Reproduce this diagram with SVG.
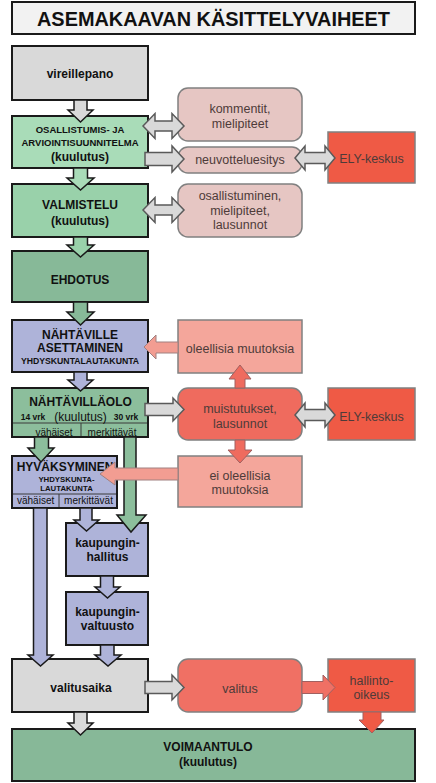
<svg xmlns="http://www.w3.org/2000/svg" width="436" height="783" viewBox="0 0 436 783">
<style>
text{font-family:"Liberation Sans",Arial,sans-serif;text-anchor:middle}
.b{font-weight:bold;font-size:12px;fill:#111}
.s{font-weight:bold;font-size:9.5px;fill:#111}
.xs{font-weight:bold;font-size:7.8px;fill:#111}
.r{font-size:10px;fill:#111}
.rt{font-size:12.5px;fill:#4e3b39}
.main{stroke:#1a1a1a;stroke-width:2}
.side{stroke:#808080;stroke-width:1.5}
.div{stroke:#3a3a3a;stroke-width:1;fill:none}
.ga{fill:#d9d9d9;stroke:#5a5a5a;stroke-width:1.5}
.ma{stroke:#1a1a1a;stroke-width:1.5}
.pa{fill:#f29d92;stroke:#a08080;stroke-width:1}
</style>
<g id="title">
<rect x="12" y="2" width="403" height="32" fill="#f2f2f2" stroke="#1a1a1a" stroke-width="2"/>
<text x="213.5" y="26" font-weight="bold" font-size="21" fill="#111" textLength="353" lengthAdjust="spacingAndGlyphs">ASEMAKAAVAN KÄSITTELYVAIHEET</text>
</g>
<g id="vireillepano">
<rect class="main" x="12" y="46" width="136" height="54" fill="#d9d9d9"/>
<text class="b" x="80" y="78">vireillepano</text>
</g>
<g id="osallistumis">
<rect class="main" x="12" y="116" width="136" height="52" fill="#a9dcb8"/>
<text class="s" x="80" y="133.3">OSALLISTUMIS- JA</text>
<text class="s" x="80" y="146">ARVIOINTISUUNNITELMA</text>
<text class="b" x="80" y="161">(kuulutus)</text>
</g>
<g id="valmistelu">
<rect class="main" x="12" y="184" width="136" height="53" fill="#99d1aa"/>
<text class="b" x="80" y="209">VALMISTELU</text>
<text class="b" x="80" y="225">(kuulutus)</text>
</g>
<g id="ehdotus">
<rect class="main" x="12" y="251" width="136" height="51" fill="#87b998"/>
<text class="b" x="80" y="283.5">EHDOTUS</text>
</g>
<g id="nahtaville">
<rect class="main" x="12" y="320" width="136" height="52" fill="#aeb3d9"/>
<text class="b" x="80" y="339">NÄHTÄVILLE</text>
<text class="b" x="80" y="352">ASETTAMINEN</text>
<text font-weight="bold" font-size="8.7" fill="#111" x="80" y="363.5">YHDYSKUNTALAUTAKUNTA</text>
</g>
<g id="nahtavillaolo">
<rect class="main" x="12" y="388" width="136" height="49" fill="#8cbe9c"/>
<line class="div" x1="13" y1="423" x2="147" y2="423"/>
<line class="div" x1="81" y1="423" x2="81" y2="436"/>
<text class="b" x="80.5" y="406">NÄHTÄVILLÄOLO</text>
<text font-weight="bold" font-size="8.5" fill="#111" x="33" y="420">14 vrk</text>
<text font-size="12" fill="#111" x="80.5" y="420.5">(kuulutus)</text>
<text font-weight="bold" font-size="8.5" fill="#111" x="126" y="420">30 vrk</text>
<text class="r" x="54" y="436">vähäiset</text>
<text class="r" x="112" y="436">merkittävät</text>
</g>
<g id="hyvaksyminen">
<rect class="main" x="12" y="456" width="105" height="52" fill="#aeb3d9"/>
<line class="div" x1="13" y1="494" x2="116" y2="494"/>
<line class="div" x1="59" y1="494" x2="59" y2="507"/>
<text class="b" x="65" y="471">HYVÄKSYMINEN</text>
<text class="xs" x="66.5" y="482">YHDYSKUNTA-</text>
<text class="xs" x="66.5" y="491">LAUTAKUNTA</text>
<text class="r" x="35.6" y="504">vähäiset</text>
<text class="r" x="88.5" y="504">merkittävät</text>
</g>
<g id="kaupunginhallitus">
<rect class="main" x="66" y="523" width="82" height="53" fill="#aeb3d9"/>
<text class="b" x="107.5" y="547">kaupungin-</text>
<text class="b" x="107.5" y="561">hallitus</text>
</g>
<g id="kaupunginvaltuusto">
<rect class="main" x="66" y="592" width="82" height="53" fill="#aeb3d9"/>
<text class="b" x="107.5" y="616">kaupungin-</text>
<text class="b" x="107.5" y="630">valtuusto</text>
</g>
<g id="valitusaika">
<rect class="main" x="12" y="659" width="136" height="53" fill="#d9d9d9"/>
<text class="b" x="81" y="692">valitusaika</text>
</g>
<g id="voimaantulo">
<rect class="main" x="12" y="729" width="403" height="52" fill="#87b898"/>
<text class="b" x="208" y="751">VOIMAANTULO</text>
<text class="b" x="208" y="766">(kuulutus)</text>
</g>
<g id="kommentit">
<rect class="side" x="178" y="88" width="124" height="53" rx="10" fill="#e6c6c3"/>
<text class="rt" x="240" y="112.5">kommentit,</text>
<text class="rt" x="240" y="127.5">mielipiteet</text>
</g>
<g id="neuvotteluesitys">
<rect class="side" x="178" y="147" width="124" height="26" rx="10" fill="#e6c6c3"/>
<text class="rt" x="240" y="163.5">neuvotteluesitys</text>
</g>
<g id="ely1">
<rect class="side" x="328" y="132" width="87" height="51" fill="#ef5a45"/>
<text class="rt" x="371.5" y="162.5">ELY-keskus</text>
</g>
<g id="osallistuminen">
<rect class="side" x="178" y="184" width="124" height="53" rx="10" fill="#e6c6c3"/>
<text class="rt" x="240" y="199.5">osallistuminen,</text>
<text class="rt" x="240" y="214.5">mielipiteet,</text>
<text class="rt" x="240" y="228.5">lausunnot</text>
</g>
<g id="oleellisia">
<rect class="side" x="178" y="320" width="124" height="53" fill="#f4a69b"/>
<text class="rt" x="240" y="352.5">oleellisia muutoksia</text>
</g>
<g id="ei-oleellisia">
<rect class="side" x="178" y="456" width="124" height="51" fill="#f4a69b"/>
<text class="rt" x="240" y="479.5">ei oleellisia</text>
<text class="rt" x="240" y="493.5">muutoksia</text>
</g>
<g id="muistutukset">
<rect class="side" x="178" y="388" width="124" height="52" rx="10" fill="#ef6b5e"/>
<text class="rt" x="240" y="412.5">muistutukset,</text>
<text class="rt" x="240" y="427.5">lausunnot</text>
</g>
<g id="ely2">
<rect class="side" x="328" y="388" width="87" height="52" fill="#ef5a45"/>
<text class="rt" x="371.5" y="420.5">ELY-keskus</text>
</g>
<g id="valitus">
<rect class="side" x="178" y="659" width="124" height="53" rx="10" fill="#f07064"/>
<text class="rt" x="240" y="692.5">valitus</text>
</g>
<g id="hallinto-oikeus">
<rect class="side" x="328" y="659" width="87" height="53" fill="#ef5a45"/>
<text class="rt" x="371.5" y="684.5">hallinto-</text>
<text class="rt" x="371.5" y="698.5">oikeus</text>
</g>
<g id="connectors">
<path class="ma" fill="#d9d9d9" d="M74,100 L87,100 L87,110 L93,110 L80.5,122 L68,110 L74,110 Z"/>
<path class="ma" fill="#a9dcb8" d="M73.5,168 L87.5,168 L87.5,178 L94,178 L80.5,190 L67,178 L73.5,178 Z"/>
<path class="ma" fill="#99d1aa" d="M73.5,237 L87.5,237 L87.5,245 L94,245 L80.5,257 L67,245 L73.5,245 Z"/>
<path class="ma" fill="#87b998" d="M73.5,302 L87.5,302 L87.5,312 L94,312 L80.5,325 L67,312 L73.5,312 Z"/>
<path class="ma" fill="#aeb3d9" d="M74,372 L87,372 L87,380 L93,380 L80.5,391 L68,380 L74,380 Z"/>
<path class="ma" fill="#8cbe9c" d="M34.5,437 L48.5,437 L48.5,448 L54,448 L41,462 L28,448 L34.5,448 Z"/>
<path class="ma" fill="#8cbe9c" d="M124,437 L136,437 L136,515 L146,515 L131,532 L117,515 L124,515 Z"/>
<path class="ma" fill="#aeb3d9" d="M33.5,508 L47,508 L47,655 L53,655 L40.5,666 L28,655 L33.5,655 Z"/>
<path class="ma" fill="#aeb3d9" d="M80,508 L92,508 L92,520 L99,520 L86.5,531 L74,520 L80,520 Z"/>
<path class="ma" fill="#aeb3d9" d="M100.5,576 L113.5,576 L113.5,587 L120,587 L107.5,598 L95,587 L100.5,587 Z"/>
<path class="ma" fill="#aeb3d9" d="M100.5,645 L114,645 L114,655 L121,655 L108,666 L95,655 L100.5,655 Z"/>
<path class="ma" fill="#d9d9d9" d="M74,712 L87,712 L87,723 L93,723 L80.5,735 L68,723 L74,723 Z"/>
<path class="ga" d="M143,126 L155,113.5 L155,121 L172,121 L172,113.5 L184,126 L172,138.5 L172,131 L155,131 L155,138.5 Z"/>
<path class="ga" d="M145,152.5 L172,152.5 L172,146 L184,159 L172,172 L172,165.5 L145,165.5 Z"/>
<path class="ga" d="M295,158 L305,146 L305,152.5 L325,152.5 L325,146 L335,158 L325,170 L325,163.5 L305,163.5 L305,170 Z"/>
<path class="ga" d="M143,210 L155,197.5 L155,205 L172,205 L172,197.5 L184,210 L172,222.5 L172,215 L155,215 L155,222.5 Z"/>
<path class="ga" d="M145,403.5 L173,403.5 L173,398 L184,409.5 L173,421 L173,415.5 L145,415.5 Z"/>
<path class="ga" d="M295,415 L305,403 L305,409.5 L325,409.5 L325,403 L335,415 L325,427 L325,420.5 L305,420.5 L305,427 Z"/>
<path class="ga" d="M145,681.5 L172,681.5 L172,675 L184,687.5 L172,700 L172,693.5 L145,693.5 Z"/>
<path class="pa" d="M178,342 L156,342 L156,335 L144,347 L156,359 L156,353 L178,353 Z"/>
<path class="pa" d="M178,468 L115,468 L115,462 L100,474 L115,485 L115,480 L178,480 Z"/>
<path fill="#ef6b5e" stroke="#a06060" stroke-width="1" d="M235,388 L235,379 L229,379 L240,365 L251,379 L245,379 L245,388 Z"/>
<path fill="#ef6b5e" stroke="#a06060" stroke-width="1" d="M235,440 L235,450 L228,450 L240,463 L252,450 L245,450 L245,440 Z"/>
<path fill="#f07064" stroke="#a06060" stroke-width="1" d="M302,681.5 L323,681.5 L323,675 L335,687.5 L323,700 L323,693.5 L302,693.5 Z"/>
<path fill="#ef5a45" stroke="#a06060" stroke-width="1" d="M363,712 L381,712 L381,720 L384,720 L372,733 L359,720 L363,720 Z"/>
</g>
</svg>
